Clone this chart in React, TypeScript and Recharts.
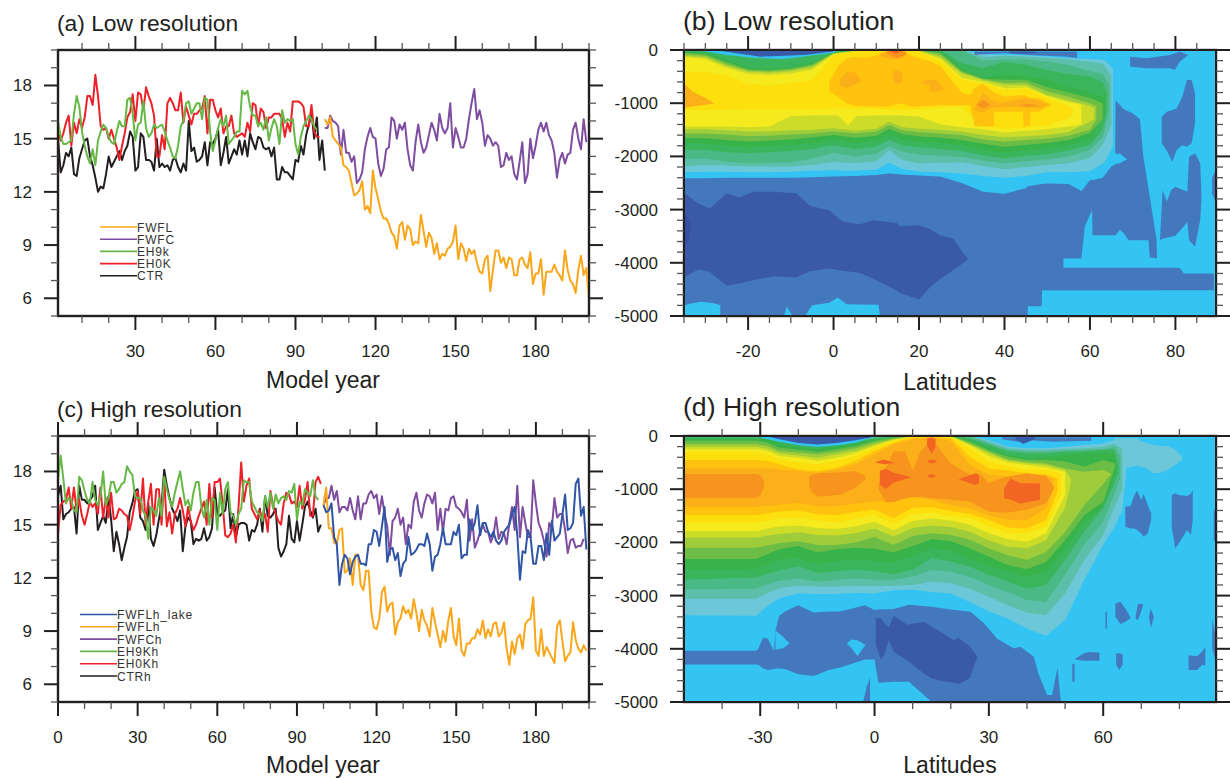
import React from 'react';
import { ComposedChart, LineChart, Line, Area, XAxis, YAxis } from 'recharts';

// ---- time series, panel (a)
const ctrLow = [15.0,13.1,13.5,14.2,14.0,14.5,13.0,12.9,13.9,14.4,14.9,15.0,14.0,13.5,12.8,12.0,12.3,12.2,13.0,14.0,13.4,13.7,14.0,14.3,13.8,14.3,14.6,15.4,15.1,13.2,13.4,15.3,15.1,13.8,13.8,13.7,13.2,15.0,13.4,13.6,13.4,13.5,13.2,13.8,13.9,13.4,13.1,13.6,13.2,16.0,14.3,14.5,13.7,13.8,14.0,14.8,13.5,14.8,14.7,15.0,15.5,13.5,14.2,15.1,13.6,14.0,14.4,14.1,14.9,14.1,14.9,14.0,15.3,14.8,14.4,15.1,15.0,14.5,14.4,14.5,14.0,14.5,12.7,12.7,13.4,13.1,13.1,12.9,12.7,13.8,13.7,14.6,14.1,15.2,15.8,16.5,15.0,16.2,13.8,14.9,13.2];
const eh0kLow = [15.5,14.9,15.3,15.9,16.3,14.6,15.9,15.3,16.1,15.6,16.2,17.4,17.4,16.9,18.6,17.4,15.7,15.5,15.6,15.0,15.5,15.0,14.5,13.8,14.6,15.3,16.2,16.5,17.5,16.0,17.6,17.5,16.6,17.9,17.4,17.0,16.3,14.0,14.0,15.2,14.4,17.0,17.3,17.0,16.6,16.6,17.6,15.9,16.8,16.3,15.8,16.4,16.4,16.6,16.7,17.4,15.3,17.2,17.2,16.6,16.2,16.7,15.3,15.7,15.7,16.3,15.3,15.1,15.2,15.3,15.1,15.9,15.4,17.0,16.9,15.7,16.7,16.5,15.6,16.2,16.2,16.4,16.4,16.4,16.1,15.1,15.9,15.4,17.1,17.1,17.1,17.0,16.8,15.7,15.7,16.9,15.4,15.1,15.1];
const eh9kLow = [16.0,15.1,14.7,14.7,14.8,14.9,16.4,17.4,16.8,15.4,14.6,14.0,13.6,14.4,13.5,14.9,15.4,15.8,15.6,15.1,14.8,14.7,15.4,16.0,15.7,15.7,17.2,17.3,16.4,14.9,15.8,15.9,17.1,15.6,15.1,15.3,15.8,15.6,15.7,15.8,15.4,14.9,14.5,14.0,13.9,14.6,15.7,16.0,17.0,17.1,16.4,16.7,17.0,17.0,16.1,17.3,17.2,15.4,14.3,14.9,15.6,16.1,15.7,16.3,14.7,14.9,15.1,15.4,15.4,17.7,17.5,17.7,16.8,16.3,16.3,15.7,15.9,15.5,16.2,14.9,15.6,16.1,15.7,14.7,16.6,15.9,16.1,16.0,16.1,14.7,14.1,15.1,15.7,16.0,16.3,16.1,15.7,15.5];
const fwfcLow = [15.6,15.6,16.3,16.0,15.9,15.7,14.1,15.5,14.2,14.2,13.7,14.0,12.5,12.7,13.1,14.4,15.1,15.6,15.1,15.0,13.6,12.9,13.3,14.4,14.5,16.2,16.0,15.0,15.8,15.5,15.9,14.4,13.5,13.2,14.8,15.8,14.8,14.2,14.5,15.2,15.9,15.5,14.9,16.4,15.6,15.3,15.6,17.0,14.5,15.6,15.1,14.5,14.5,15.0,16.1,17.0,17.8,16.1,16.6,15.9,14.6,15.2,15.0,14.6,14.8,14.6,13.4,13.5,14.2,13.8,14.0,13.0,12.7,13.7,14.8,12.5,13.0,15.0,13.9,14.6,15.5,15.9,15.4,15.9,15.2,14.9,14.2,12.8,13.8,14.2,13.6,14.1,14.2,15.5,15.9,15.0,14.4,16.1,14.8];
const fwflLow = [16.1,15.8,16.2,15.1,14.9,14.7,14.5,13.5,13.4,13.2,12.5,11.8,11.9,12.1,12.6,11.0,11.2,10.8,13.2,12.2,11.6,10.9,10.5,10.5,10.2,9.7,9.5,8.8,10.1,10.3,9.3,10.1,9.9,9.0,9.2,9.1,10.7,9.8,8.9,9.7,9.4,8.5,9.1,8.2,8.5,8.4,8.8,8.9,9.2,10.1,8.2,9.1,8.8,8.1,8.8,8.5,8.7,8.0,7.5,7.4,8.2,8.4,6.4,7.6,8.7,8.7,8.0,8.3,7.7,8.3,8.2,7.3,7.3,8.2,8.3,7.9,7.7,8.6,6.8,7.4,7.4,8.2,6.2,7.5,7.5,7.5,7.9,7.5,7.3,7.0,8.7,7.6,7.0,6.8,6.3,7.6,8.4,7.3,7.7,6.0];

// ---- time series, panel (c)
const ctrHigh = [16.6,17.2,15.3,15.6,15.7,15.9,16.0,14.5,17.2,16.4,16.4,16.2,16.4,16.6,17.2,14.7,15.1,15.5,15.1,16.6,15.3,13.5,14.6,13.9,13.0,13.7,14.3,15.7,16.2,16.9,17.0,15.4,15.2,14.7,16.2,14.2,13.8,14.4,15.3,16.1,18.1,17.2,16.5,15.9,15.6,15.2,15.8,13.5,14.9,15.4,15.2,13.9,14.2,14.1,14.2,14.8,14.1,14.3,14.8,17.1,15.6,15.5,15.7,15.8,17.0,14.8,15.6,14.3,15.0,15.1,15.1,15.0,14.1,14.7,14.6,15.0,15.9,14.6,16.6,15.5,15.4,15.6,15.9,13.7,13.2,13.5,13.9,15.5,14.2,14.0,15.2,14.1,15.0,16.0,16.3,15.8,15.4,15.9,14.6,15.0];
const eh0kHigh = [14.5,16.1,16.3,16.4,17.1,15.9,17.1,15.8,16.4,15.5,15.0,15.6,16.3,16.0,16.2,15.6,17.1,15.4,16.5,15.4,16.8,15.3,15.4,15.9,15.8,15.6,15.5,14.7,15.4,16.3,16.9,15.6,17.6,15.0,16.3,17.3,15.0,17.0,17.0,15.0,17.6,14.9,15.7,14.5,15.6,15.9,16.5,15.8,14.9,16.0,15.2,14.7,15.0,15.5,15.9,16.3,15.0,17.3,15.4,17.4,17.4,17.6,16.2,14.4,14.3,14.5,15.0,14.0,16.0,18.5,16.3,17.2,17.6,15.9,15.6,15.3,15.8,15.3,15.6,14.6,16.9,16.1,15.6,15.2,15.0,16.2,16.8,16.7,16.2,16.3,16.0,17.2,15.9,16.4,17.4,15.5,15.5,17.4,17.7,17.3];
const eh9kHigh = [17.5,18.9,17.6,16.2,16.5,16.4,15.8,15.7,17.7,17.5,16.9,16.4,16.2,17.4,16.4,16.1,16.6,18.0,16.1,16.5,17.4,17.4,16.8,17.0,17.3,17.4,18.3,18.0,17.8,16.6,16.5,16.5,15.8,15.5,14.2,16.0,15.8,15.5,16.5,15.5,17.7,17.0,16.4,16.0,16.8,17.4,18.0,17.0,16.1,16.4,15.8,16.8,17.4,17.4,16.0,15.4,16.4,15.0,16.5,16.4,14.7,16.8,15.6,17.0,17.4,15.7,15.5,15.0,15.6,15.9,17.5,17.4,17.4,16.3,16.0,15.7,15.6,15.2,16.6,16.0,16.8,15.9,16.7,16.2,16.5,16.6,16.4,16.9,16.8,17.3,15.3,16.3,16.1,17.0,16.8,16.6,17.5,16.6,16.4];
const fwfcHigh = [16.1,16.5,16.5,17.2,16.4,16.9,15.7,16.0,16.0,15.8,16.5,15.8,15.3,16.6,15.3,16.2,16.2,16.7,16.9,16.5,16.7,15.6,16.6,15.6,14.9,13.3,15.2,15.4,15.9,15.0,15.4,13.9,15.0,14.8,16.3,16.8,15.8,15.4,16.2,16.7,16.6,16.2,16.8,14.7,15.9,14.6,15.9,15.8,16.5,16.6,16.0,15.9,15.7,15.4,16.4,14.1,15.3,13.7,14.1,14.6,15.0,14.6,14.6,14.0,14.4,15.4,14.2,14.6,14.5,13.9,15.1,16.0,14.7,17.2,14.3,16.0,15.1,14.3,14.3,17.5,16.2,15.1,14.7,14.1,13.2,15.1,14.8,16.5,15.4,15.6,15.6,14.7,13.4,14.1,14.2,13.7,13.8,13.8,14.2];
const fwflHigh = [16.1,17.1,14.8,14.8,14.0,13.9,14.7,14.8,12.3,12.4,13.1,11.6,13.3,13.3,11.6,11.3,12.4,12.4,10.1,9.2,9.1,9.7,11.2,11.5,10.1,10.5,10.6,8.8,9.5,9.7,10.4,10.0,10.2,9.7,10.8,10.0,9.0,10.2,9.6,9.3,8.7,10.3,9.5,8.8,8.1,9.0,8.4,9.6,10.3,8.7,8.2,9.7,7.9,7.6,8.3,8.3,8.6,8.6,9.1,8.8,9.6,8.6,9.1,8.7,9.4,9.5,8.7,8.9,9.5,8.0,7.1,8.4,7.7,8.6,8.8,8.0,9.4,9.6,9.7,10.9,7.9,7.6,9.1,7.6,8.1,7.8,7.5,7.2,9.3,9.6,8.4,7.3,7.6,7.8,9.5,8.5,8.0,7.8,8.2,7.9];
const lakeHigh = [16.1,15.7,15.8,16.2,14.3,13.9,11.6,12.8,13.3,13.1,12.2,12.9,13.2,13.3,12.8,12.8,12.7,13.9,13.9,14.7,14.6,13.8,14.9,16.0,12.9,13.6,13.7,13.0,13.4,12.1,12.8,13.0,14.3,13.3,13.4,13.6,13.9,13.9,13.8,14.5,13.9,12.4,13.2,13.3,13.9,14.8,13.9,13.9,13.9,14.6,14.4,15.0,13.1,13.3,13.3,15.3,14.7,15.1,16.1,14.4,15.1,15.1,14.6,14.3,14.6,14.1,13.9,14.1,14.6,14.8,15.0,15.6,16.0,14.4,11.9,13.5,13.4,14.7,14.3,12.8,12.8,13.8,13.8,13.0,14.5,13.3,15.2,14.1,14.3,14.5,15.6,16.7,14.7,14.8,15.1,17.3,17.6,15.5,16.0,13.6];

const yearTicksLow = [10,20,30,40,50,60,70,80,90,100,110,120,130,140,150,160,170,180,190,200];
const yearTicksHigh = [0,10,20,30,40,50,60,70,80,90,100,110,120,130,140,150,160,170,180,190,200];
const tempTicks = [5,6,7,8,9,10,11,12,13,14,15,16,17,18,19,20];
const depthTicks = [0,200,400,600,800,1000,1200,1400,1600,1800,2000,2200,2400,2600,2800,3000,3200,3400,3600,3800,4000,4200,4400,4600,4800,5000];
const latTicksB = [-35,-30,-25,-20,-15,-10,-5,0,5,10,15,20,25,30,35,40,45,50,55,60,65,70,75,80,85];
const latTicksD = [-40,-30,-20,-10,0,10,20,30,40,50,60,70,80];

const legendLow = ['FWFL','FWFC','EH9k','EH0K','CTR'];
const legendHigh = ['FWFLh_lake','FWFLh','FWFCh','EH9Kh','EH0Kh','CTRh'];

// ---- contour patches: level, latitudes, upper depth, lower depth
type Patch = [string, number[], number[], number[]];

const cB = [-35,-30,-25,-20,-15,-10,-5,0,5,10,13,16,20,25,30,35,40,45,50,55,60];
const cBto55 = cB.slice(0, 20);

const bodyLatB = [-35,-30,-25,-20,-15,-10,-5,0,5,10,13,16,20,25,30,35,40,45,45.4,45.5,48.7,48.8,50,55,58,60,61,63,65,65.9,66,68,70,71.7,72.5,74,75.6,75.7];
const bodyTopB = [2410,2410,2400,2400,2400,2400,2390,2380,2370,2350,2320,2340,2360,2380,2500,2665,2700,2600,2560,2560,2520,2520,2510,2520,2650,2450,2440,2400,2190,2150,950,1120,1190,1300,2000,2760,3570,3900];
const bodyBotB = [5000,5000,5000,5000,5000,5000,5000,5000,5000,5000,5000,5000,5000,5000,5000,5000,5000,5000,5000,4815,4815,4515,4515,4515,4515,4515,4515,4515,4515,4515,4515,4515,4515,4515,4515,4515,4515,4515];

const coldB: Patch[] = [
  ['blue', [50,81,82,89], [4094,4094,4200,4200], [4515,4515,4515,4515]],
  ['sky', [53.8,58,58.8,60.5,60.6,66,67,68,69,73.7,74,76], [3919,3919,3320,3010,3480,3480,3380,3450,3574,3574,3900,3920], [4094,4094,4094,4094,4094,4094,4094,4094,4094,4094,4094,4094]],
  ['sky', [64.5,65,67,68.6], [1960,1950,1950,2050], [2140,2150,2130,2060]],
  ['sky', [-35,-33,-31,-28,-26.5], [4800,4760,4733,4760,4800], [5000,5000,5000,5000,5000]],
  ['sky', [-11.6,-11,-9.6], [5000,4820,5000], [5000,5000,5000]],
  ['sky', [-6.7,-5,-1,1,3,10.5,10.9], [5000,4800,4750,4652,4780,4790,5000], [5000,5000,5000,5000,5000,5000,5000]],
  ['deep', [-35,-31.7,-29,-25,-22,-18.8,-14,-8.7,-5.5,-1,2,6,9.3,14.8,15.6,20,22.5,25,28,30.4,31.5], [2683,2884,2978,2695,2771,2665,2665,2695,2934,3010,3217,3279,3198,3250,3311,3292,3367,3480,3543,3825,3919], [4276,4126,4170,4433,4390,4326,4251,4276,4160,4107,4150,4188,4300,4520,4570,4690,4464,4300,4138,4000,3919]],
  ['abyss', [-35,-34,-33.5], [3100,3150,3300], [3650,3600,3400]],
  ['blue', [69.4,73.3,78.7,79.9,81,83], [125,157,94,63,30,94], [313,345,345,376,220,94]],
  ['blue', [76.8,78,79.3,80.3,81.6,82.7,83.8,84.6], [1254,1160,1130,1100,878,564,564,815], [1755,1900,2100,1880,1790,1818,1755,1380]],
  ['blue', [76.4,77,78,79,80,82.8,83.2,84.6,85.8,86.1], [3560,2633,2850,2633,2570,2665,2006,1943,2130,2760], [3574,3550,3530,3510,3490,3240,3574,3700,3200,2760]],
  ['blue', [88.6,89.5], [2400,2250], [2700,2880]],
];

const nestB: Patch[] = [
  ['c01', [...cB,63.5,65.4], [0,0,0,0,0,0,0,0,0,0,0,0,0,0,0,80,90,100,120,150,170,190,350], [2300,2290,2290,2300,2300,2290,2270,2260,2270,2250,2120,2230,2290,2300,2320,2370,2400,2370,2300,2300,2280,2100,1800]],
  ['c02', [...cB,63,65], [0,0,0,0,0,0,0,0,0,0,0,0,0,0,0,130,110,120,150,180,220,260,500], [2190,2160,2170,2190,2190,2190,2160,2100,2130,2090,1880,2070,2130,2120,2110,2180,2240,2200,2160,2130,2030,1780,1400]],
  ['c03', [...cB,63,64.5], [0,0,0,0,0,0,0,0,0,0,0,0,0,0,0,200,180,180,220,280,400,450,650], [2050,2040,2100,2130,2120,2110,2040,1930,2000,1950,1810,1910,1970,1990,2010,2080,2130,2090,2060,2000,1880,1640,1150]],
  ['c04', [...cB,63,64], [10,30,70,150,170,160,100,20,0,0,0,0,0,0,250,340,220,280,376,450,500,600,800], [1870,1880,1920,1940,1920,1900,1860,1790,1860,1820,1690,1790,1830,1860,1900,1980,2040,1990,1960,1890,1780,1500,1100]],
  ['c05', [...cB,63.5], [30,50,190,330,350,320,240,30,5,0,0,0,0,20,350,520,460,480,560,700,800,900], [1750,1760,1800,1830,1800,1790,1750,1690,1750,1700,1580,1680,1720,1750,1790,1870,1930,1880,1850,1790,1660,1250]],
  ['c06', [...cB,63], [50,80,230,360,380,350,270,45,10,5,0,0,5,50,390,540,560,560,700,800,900,1000], [1650,1660,1690,1720,1700,1680,1640,1600,1650,1610,1480,1580,1620,1650,1690,1760,1820,1780,1750,1690,1560,1300]],
  ['c07', [...cB,61.5], [80,110,270,385,405,370,295,60,15,10,0,0,10,90,420,550,620,610,780,880,1000,1050], [1570,1570,1590,1620,1610,1590,1570,1530,1570,1530,1410,1510,1540,1570,1600,1680,1720,1690,1670,1610,1500,1300]],
  ['c08', [...cB,61], [110,140,300,410,430,400,330,70,20,10,5,5,15,130,440,570,660,660,846,950,1050,1100], [1490,1490,1510,1530,1530,1510,1500,1470,1520,1480,1350,1450,1480,1500,1530,1600,1640,1620,1600,1540,1350,1300]],
  ['c09', [...cBto55,58], [130,170,340,450,470,440,370,80,25,12,8,8,25,170,520,600,720,700,865,980,1030], [1440,1440,1440,1450,1440,1240,1230,1230,1240,1230,1230,1230,1250,1400,1450,1490,1550,1520,1490,1440,1400]],
  ['c09', [1,3.4,5.5], [1200,1200,1200], [1230,1420,1230]],
  ['c10', [...cBto55,56], [400,420,480,640,660,620,560,100,30,15,10,10,30,200,565,630,750,720,910,1050,1120], [1130,1130,1120,1110,1110,1110,1110,1100,1100,1110,1120,1120,1120,1080,1070,1430,1480,1460,1420,1280,1200]],
  ['c11', [-1,1,3,5,8,10,13,16,18,20,23,25,28,30,32,33,35,37.5,37.6,40,43,44.4,44.5,46,46.1,48,51], [600,300,160,130,140,100,40,40,100,150,220,300,600,800,850,720,630,800,800,880,850,850,850,900,900,900,1030], [780,880,1000,1050,1060,1060,1060,1000,1060,1060,1050,1040,1040,1040,1040,1430,1440,1440,1160,1160,1160,1160,1440,1420,1160,1160,1035]],
  ['c12', [-35,-33,-30,-28], [630,780,900,1000], [1080,1060,1030,1010]],
  ['c12', [1.5,3,5,6.5], [560,420,420,570], [680,720,650,580]],
  ['c12', [14,15,16], [400,380,430], [600,640,600]],
  ['c12', [20.6,22,23.7], [610,550,620], [640,660,640]],
  ['c12', [11,13,15,17], [60,10,10,60], [110,170,180,120]],
  ['c12', [22.5,24,26], [560,560,720], [780,780,740]],
  ['c12', [33,35,37,39,42,45,48,50], [1100,800,950,1000,950,900,950,1030], [1130,1180,1080,1080,1060,1080,1100,1040]],
  ['c13', [12.5,15,17], [20,10,30], [70,160,80]],
  ['c13', [33.5,35,36.5], [1020,940,1020], [1040,1100,1040]],
  ['c13', [43.5,45.5,47.5], [1040,1015,1040], [1045,1065,1045]],
  ['c14', [13,14.5,16], [0,0,0], [20,70,20]],
  ['sky', [-30,-25,-19,-12,-6,0,1], [0,0,0,0,0,0,0], [30,94,140,170,113,50,0]],
  ['deep', [-27,-22,-17,-12.6,-6.3,0], [0,0,0,0,0,0], [10,70,125,113,90,30]],
  ['blue', [33,40,47,54,57], [30,30,30,30,30], [90,60,100,120,150]],
  ['deep', [41,44,47.5], [30,30,30], [50,70,50]],
];

const cD = [-50,-31,-28,-25,-20,-15,-10,-5,0,5,10,15,20,25,30,35,40,45,50,55,60,63];
const to60 = cD.slice(0, 21);
const to50 = cD.slice(0, 19);
const to45 = cD.slice(0, 18);

const coldD: Patch[] = [
  ['blue', [-50,-31,-30.5,-29.2,-28,-26.4,-26,-25,-23.5,-20,-16,-12,-9,-2.5,0,1,5,9,15,20,25.2,28.7,32.2,36.6,38.3,41.8,43,45.3,46.6,48,48.8,49],
    [4038,4038,4000,3787,3810,4040,3650,3380,3300,3180,3320,3300,3300,3180,3270,3260,3250,3170,3210,3260,3304,3520,3810,3994,3960,4150,4464,4870,4870,4350,4935,5000],
    [4295,4295,4300,4370,4400,4380,4370,4370,4380,4480,4510,4400,4350,4200,4200,4640,4620,4620,5000,5000,5000,5000,5000,5000,5000,5000,5000,5000,5000,5000,5000,5000]],
  ['sky', [-26,-24,-22.3], [3650,3775,3900], [4020,3990,3900]],
  ['sky', [-7.3,-6,-4.5,-2.4], [3900,3825,3840,3930], [3900,3990,4140,3930]],
  ['sky', [-2.5,-1,0.7,1.5], [4210,4400,4650,4870], [5000,5000,5000,5000]],
  ['blue', [-3,-2,-1.2], [5000,4700,4550], [5000,5000,5000]],
  ['deep', [0.3,1.6,2.4,3.8,5,8.6,13,15,17.3,20.8,22,25,27], [3430,3420,3500,3600,3380,3550,3490,3586,3680,3837,3790,3950,4150], [3900,4200,4130,3840,4050,4220,4470,4560,4600,4640,4665,4550,4150]],
  ['blue', [65.8,67.2,68.2,68.9,70,70.6,71.7,72.6], [1330,1317,1110,1028,1204,1091,1298,1455], [1705,1737,1737,1768,1831,1894,1831,1580]],
  ['blue', [78,78.9,79.8,82,83,83.5], [1110,1078,1110,1130,1091,1016], [1705,2113,2020,1768,1860,1580]],
  ['blue', [89,89.6], [1390,1380], [1960,1990]],
  ['blue', [63.2,64.5,65.8,67.1], [3148,3116,3242,3398], [3398,3536,3492,3430]],
  ['blue', [68.5,69.1,70.4], [3398,3160,3160], [3430,3460,3210]],
  ['blue', [72,72.5,73.3], [3398,3242,3398], [3400,3610,3400]],
  ['blue', [60.6,61], [3300,3300], [3620,3620]],
  ['blue', [52.7,54.9,56.2,59], [4180,4090,4060,4070], [4200,4226,4226,4226]],
  ['blue', [63.4,64.2,65.1], [4090,4090,4100], [4300,4400,4300]],
  ['blue', [51.9,52.5], [4280,4280], [4620,4620]],
  ['blue', [82.4,84.6,85.9,86.8], [4120,4140,4060,3960], [4400,4400,4310,4310]],
  ['blue', [88.6,89.6], [3450,3800], [4000,4250]],
];

const nestD: Patch[] = [
  ['c01', [63,66,68.9,70,71.5,73,75,77,79,80.7], [40,40,40,100,130,170,190,190,260,380], [1000,600,560,580,610,700,690,640,540,450]],
  ['c01', [...cD,65,66.3], [0,0,0,0,0,0,0,0,0,0,0,0,0,0,75,200,230,230,200,170,140,75,140,260], [3370,3380,3190,3050,2960,2970,2970,2950,2960,2900,2890,2930,2960,3120,3300,3430,3620,3760,3460,2710,2050,1700,1400,500]],
  ['c02', [...cD,65], [0,0,0,0,0,0,0,0,0,0,0,0,0,0,110,230,260,260,240,230,200,140,260], [3060,3060,2950,2860,2810,2830,2830,2820,2820,2820,2800,2740,2770,2870,3020,3180,3320,3370,2960,2330,1860,1330,1000]],
  ['c03', [...cD,64.5], [0,0,0,0,0,0,0,0,0,0,0,0,0,0,140,260,290,290,275,260,250,200,390], [2880,2870,2780,2720,2680,2740,2700,2680,2700,2700,2640,2520,2550,2650,2800,2930,3085,3120,2610,2050,1610,1080,800]],
  ['c04', [...cD,64], [30,30,30,90,175,200,160,90,50,10,0,0,0,45,170,290,325,325,290,290,260,260,575], [2700,2660,2590,2530,2450,2570,2540,2510,2540,2600,2510,2300,2360,2460,2610,2740,2870,2800,2330,1800,1360,890,700]],
  ['c05', [...cD,63.5], [50,50,60,125,205,240,190,125,60,20,0,0,0,75,230,355,420,390,355,325,325,325,500], [2510,2500,2420,2330,2290,2410,2350,2320,2350,2380,2260,2110,2160,2300,2460,2550,2650,2550,2110,1640,1320,765,620]],
  ['c06', cD, [90,90,125,220,260,300,250,190,90,30,0,0,0,105,265,390,450,450,480,575,450,510], [2310,2310,2220,2130,2070,2190,2130,2100,2120,2190,2070,1940,1980,2110,2270,2430,2500,2370,1960,1490,1240,600]],
  ['c07', [...to60,62], [150,150,190,280,310,345,295,230,125,50,0,0,0,140,295,440,490,515,610,670,640,700], [2100,2100,2060,2010,1980,2050,2050,2000,1900,2050,1880,1830,1860,1950,2110,2240,2330,2180,1810,1300,900,720]],
  ['c08', [...to50,51.5], [200,200,240,325,365,410,345,280,160,60,5,0,0,155,325,465,515,545,640,800], [1910,1910,1870,1840,1810,1860,1870,1830,1740,1890,1730,1680,1710,1800,1960,2080,2110,1960,1350,900]],
  ['c09', to50, [250,250,280,375,410,470,410,325,190,75,10,0,10,180,375,500,545,590,670], [1790,1790,1740,1700,1680,1730,1750,1700,1610,1770,1600,1550,1590,1670,1830,1940,1990,1830,1110]],
  ['c10', [...to45,49], [310,310,345,440,490,530,470,375,220,95,20,5,20,230,480,565,630,640,700], [1630,1630,1590,1550,1540,1590,1620,1560,1480,1660,1470,1440,1510,1540,1700,1820,1830,1700,1080]],
  ['c11', [...to45,48], [450,450,470,530,630,660,600,470,280,125,30,20,40,390,610,650,700,720,800], [1490,1490,1450,1420,1400,1470,1490,1430,1380,1540,1350,1340,1410,1460,1580,1720,1740,1580,1050]],
  ['c12', [...to45,47], [600,600,600,630,660,690,630,530,345,160,60,30,90,545,730,760,730,760,800], [1330,1330,1310,1290,1260,1320,1320,1270,1230,1230,1140,1200,1300,1360,1490,1580,1580,1360,1000]],
  ['c13', [-50,-31,-30,-29], [715,715,740,830], [1160,1160,1130,960]],
  ['c13', [-17.2,-16.3,-14.6,-8.9,-5.4,-2.4], [780,720,700,680,660,750], [940,1065,1140,1100,990,815]],
  ['c13', [1,3,5,8,10,12,15,20,25,28,30,33,35,40,45,47], [900,600,290,290,650,300,50,510,730,730,890,800,765,700,750,950], [1000,1250,1240,1170,1150,1140,1170,1200,1230,1350,1420,1440,1440,1380,1270,1000]],
  ['c14', [1.4,2.9,5,9.4], [660,615,690,770], [910,1000,880,775]],
  ['c14', [34,35.7,38.3,43.4], [985,800,890,890], [1170,1200,1267,1200]],
  ['c14', [22,26.5,27.4], [815,700,730], [815,920,890]],
  ['c14', [13.8,15,16], [40,30,50], [180,340,200]],
  ['c14', [0.2,2.5,5], [490,440,500], [500,530,510]],
  ['c14', [14,15,16.3], [460,440,460], [490,520,490]],
  ['c14', [14,15,16], [730,720,740], [760,790,760]],
  ['sky', [-30,-28,-25,-20,-15,-10,-5,-2,0], [0,0,0,0,0,0,0,0,0], [30,60,110,170,200,180,125,60,10]],
  ['deep', [-27.5,-25,-20,-15,-10,-5,-1], [0,0,0,0,0,0,0], [20,60,130,160,130,80,30]],
  ['blue', [33.5,38,41,47,56.9], [25,25,25,25,25], [63,110,80,107,90]],
  ['deep', [37,39,42], [25,25,25], [60,150,60]],
];

const levelFill: Record<string, string> = {
  abyss: '#3550a0', deep: '#3a5aa8', blue: '#4478bc', sky: '#33c4f3',
  c01: '#6cc7d9', c02: '#5bbfa9', c03: '#4bb985', c04: '#3bb55c', c05: '#37b34a', c06: '#6bbd45', c07: '#9fcc3b',
  c08: '#cddc29', c09: '#f4ea1e', c10: '#fcdf0c', c11: '#ffc20e', c12: '#fbb019', c13: '#f7941d', c14: '#f26522',
};

const ink = '#231f20';
const font = '"Liberation Sans", Arial, sans-serif';
const seriesColor = { ctr: '#231f20', eh0k: '#ee2028', eh9k: '#66b847', fwfc: '#7e4da0', fwfl: '#faa61a', lake: '#2f55a4' };

const buildYears = (from: number, to: number, series: Record<string, [number, number[]]>) => {
  const rows: any[] = [];
  for (let year = from; year <= to; year++) {
    const row: any = { year };
    Object.keys(series).forEach((k) => {
      const [start, values] = series[k];
      const v = values[year - start];
      row[k] = v === undefined ? null : v;
    });
    rows.push(row);
  }
  return rows;
};

const lowData = buildYears(1, 200, { ctr: [1, ctrLow], eh0k: [1, eh0kLow], eh9k: [1, eh9kLow], fwfc: [101, fwfcLow], fwfl: [101, fwflLow] });
const highData = buildYears(0, 200, { ctr: [0, ctrHigh], eh0k: [0, eh0kHigh], eh9k: [0, eh9kHigh], fwfc: [100, fwfcHigh], fwfl: [100, fwflHigh], lake: [100, lakeHigh] });

const bottomTick = (isMajor: (v: number) => boolean, fmt: (v: number) => string) => (p: any) => {
  const v = p.payload.value;
  const major = isMajor(v);
  return (
    <g>
      <line x1={p.x} x2={p.x} y1={p.y} y2={p.y + (major ? 14 : 7)} stroke={major ? ink : '#555'} strokeWidth={major ? 2 : 1.3} />
      {major && <text x={p.x} y={p.y + 41} textAnchor="middle" fontSize={17} fontFamily={font} fill={ink}>{fmt(v)}</text>}
    </g>
  );
};
const topTick = (isMajor: (v: number) => boolean) => (p: any) => {
  const major = isMajor(p.payload.value);
  return <line x1={p.x} x2={p.x} y1={p.y} y2={p.y - (major ? 14 : 7)} stroke={major ? ink : '#555'} strokeWidth={major ? 2 : 1.3} />;
};
const leftTick = (isMajor: (v: number) => boolean, fmt: (v: number) => string) => (p: any) => {
  const v = p.payload.value;
  const major = isMajor(v);
  return (
    <g>
      <line x1={p.x} x2={p.x - (major ? 14 : 7)} y1={p.y} y2={p.y} stroke={major ? ink : '#555'} strokeWidth={major ? 2 : 1.3} />
      {major && <text x={p.x - 26} y={p.y + 6} textAnchor="end" fontSize={17} fontFamily={font} fill={ink}>{fmt(v)}</text>}
    </g>
  );
};
const rightTick = (isMajor: (v: number) => boolean) => (p: any) => {
  const major = isMajor(p.payload.value);
  return <line x1={p.x} x2={p.x + (major ? 14 : 7)} y1={p.y} y2={p.y} stroke={major ? ink : '#555'} strokeWidth={major ? 2 : 1.3} />;
};

const frame = { stroke: ink, strokeWidth: 2 };
const PANEL_H = 400;
const BOTTOM_H = 84;

const Texts = ({ title, titleX, titleY, titleSize, axis, axisX, axisY }: any) => (
  <g fontFamily={font} fill={ink}>
    <text x={titleX} y={titleY} fontSize={titleSize}>{title}</text>
    <text x={axisX} y={axisY} fontSize={23} textAnchor="middle">{axis}</text>
  </g>
);

const LegendRows = ({ names, colors, x, y, step }: any) => (
  <g fontFamily={font} fontSize={12} letterSpacing={0.8} fill="#333">
    {names.map((name: string, i: number) => (
      <g key={name}>
        <line x1={x} x2={x + 37} y1={y + i * step} y2={y + i * step} stroke={colors[i]} strokeWidth={1.6} />
        <text x={x + 37} y={y + i * step + 4.5}>{name}</text>
      </g>
    ))}
  </g>
);

const YearPanel = ({ top, data, yearTicks, domain, keys, legend, legendColors, legendY, legendX, legendStep, title, titleY, axisY }: any) => (
  <div style={{ position: 'absolute', left: 0, top }}>
    <LineChart width={615} height={PANEL_H} data={data} margin={{ top: 0, right: 0, bottom: 0, left: 0 }}>
      <XAxis dataKey="year" type="number" domain={domain} ticks={yearTicks} interval={0} height={BOTTOM_H} tickSize={0} tickMargin={0} tickLine={false} axisLine={frame} allowDataOverflow
        tick={bottomTick((v) => v % 30 === 0 && v < 200, String)} />
      <XAxis xAxisId="top" orientation="top" dataKey="year" type="number" domain={domain} ticks={yearTicks} interval={0} height={50} tickSize={0} tickMargin={0} tickLine={false} axisLine={frame} allowDataOverflow
        tick={topTick((v) => v % 30 === 0 && v < 200)} />
      <YAxis type="number" domain={[5, 20]} ticks={tempTicks} interval={0} width={58} tickSize={0} tickMargin={0} tickLine={false} axisLine={frame} allowDataOverflow
        tick={leftTick((v) => v % 3 === 0, String)} />
      <YAxis yAxisId="right" orientation="right" type="number" domain={[5, 20]} ticks={tempTicks} interval={0} width={26} tickSize={0} tickMargin={0} tickLine={false} axisLine={frame} allowDataOverflow
        tick={rightTick((v) => v % 3 === 0)} />
      {keys.map((k: keyof typeof seriesColor) => (
        <Line key={k} dataKey={k} stroke={seriesColor[k]} strokeWidth={2} strokeLinejoin="round" dot={false} activeDot={false} isAnimationActive={false} connectNulls={false} />
      ))}
      <rect x={58} y={50} width={531} height={266} fill="none" stroke={ink} strokeWidth={2.4} />
      <Texts title={title} titleX={57} titleY={titleY} titleSize={22.8} axis="Model year" axisX={323} axisY={axisY} />
      <LegendRows names={legend} colors={legendColors} x={legendX} y={legendY} step={legendStep} />
    </LineChart>
  </div>
);

const patchArea = (p: Patch, i: number) => (
  <Area key={i} data={p[1].map((lat, j) => ({ lat, range: [p[2][j], p[3][j]] }))} dataKey="range" type="linear"
    fill={levelFill[p[0]]} fillOpacity={1} stroke="none" dot={false} activeDot={false} isAnimationActive={false} connectNulls />
);

const DepthPanel = ({ top, patches, domain, latTicks, latMajor, title, titleY, axisY }: any) => (
  <div style={{ position: 'absolute', left: 615, top }}>
    <ComposedChart width={615} height={PANEL_H} margin={{ top: 0, right: 0, bottom: 0, left: 0 }}>
      <XAxis dataKey="lat" type="number" domain={domain} ticks={latTicks} interval={0} height={BOTTOM_H} tickSize={0} tickMargin={0} tickLine={false} axisLine={frame} allowDataOverflow
        tick={bottomTick(latMajor, String)} />
      <XAxis xAxisId="top" orientation="top" dataKey="lat" type="number" domain={domain} ticks={latTicks} interval={0} height={50} tickSize={0} tickMargin={0} tickLine={false} axisLine={frame} allowDataOverflow
        tick={topTick(latMajor)} />
      <YAxis type="number" reversed domain={[0, 5000]} ticks={depthTicks} interval={0} width={69} tickSize={0} tickMargin={0} tickLine={false} axisLine={frame} allowDataOverflow
        tick={leftTick((v) => v % 1000 === 0, (v) => (v === 0 ? '0' : `-${v}`))} />
      <YAxis yAxisId="right" orientation="right" type="number" reversed domain={[0, 5000]} ticks={depthTicks} interval={0} width={14} tickSize={0} tickMargin={0} tickLine={false} axisLine={frame} allowDataOverflow
        tick={rightTick((v) => v % 1000 === 0)} />
      {patches.map(patchArea)}
      <rect x={69} y={50} width={532} height={266} fill="none" stroke={ink} strokeWidth={2.4} />
      <Texts title={title} titleX={68} titleY={titleY} titleSize={26.6} axis="Latitudes" axisX={335} axisY={axisY} />
    </ComposedChart>
  </div>
);

const skyB: Patch = ['sky', [-35, 89.5], [0, 0], [5000, 5000]];
const skyD: Patch = ['sky', [-50, 89.6], [0, 0], [5000, 5000]];
const bodyB: Patch = ['blue', bodyLatB, bodyTopB, bodyBotB];

export default function App() {
  return (
    <div style={{ position: 'absolute', left: 0, top: 0, width: 1230, height: 778, background: '#fff', overflow: 'hidden' }}>
      <YearPanel top={0} data={lowData} yearTicks={yearTicksLow} domain={[1, 200]} keys={['ctr', 'eh0k', 'eh9k', 'fwfc', 'fwfl']}
        legend={legendLow} legendColors={[seriesColor.fwfl, seriesColor.fwfc, seriesColor.eh9k, seriesColor.eh0k, seriesColor.ctr]}
        legendX={100} legendY={227} legendStep={12.2} title="(a) Low resolution" titleY={31} axisY={388} />
      <YearPanel top={386} data={highData} yearTicks={yearTicksHigh} domain={[0, 200]} keys={['ctr', 'eh0k', 'eh9k', 'fwfc', 'fwfl', 'lake']}
        legend={legendHigh} legendColors={[seriesColor.lake, seriesColor.fwfl, seriesColor.fwfc, seriesColor.eh9k, seriesColor.eh0k, seriesColor.ctr]}
        legendX={80} legendY={228.5} legendStep={12.3} title="(c) High resolution" titleY={31} axisY={387} />
      <DepthPanel top={0} patches={[skyB, bodyB, ...coldB, ...nestB]} domain={[-35, 89.5]} latTicks={latTicksB} latMajor={(v: number) => v % 20 === 0}
        title="(b) Low resolution" titleY={30} axisY={390} />
      <DepthPanel top={386} patches={[skyD, ...coldD, ...nestD]} domain={[-50, 89.6]} latTicks={latTicksD} latMajor={(v: number) => v % 30 === 0}
        title="(d) High resolution" titleY={30} axisY={387} />
    </div>
  );
}
